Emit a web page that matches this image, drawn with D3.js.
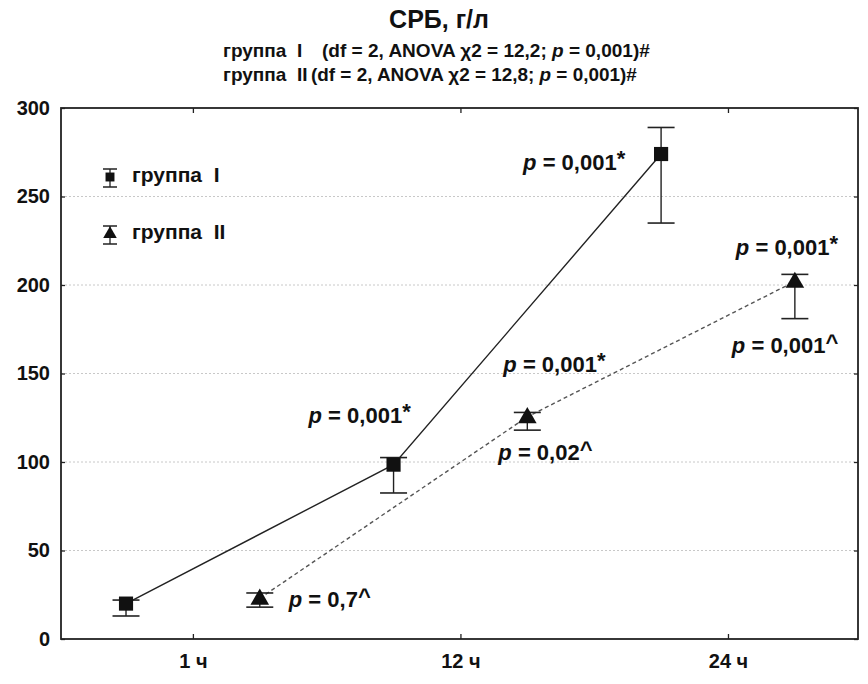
<!DOCTYPE html>
<html>
<head>
<meta charset="utf-8">
<script src="https://cdn.jsdelivr.net/npm/d3@7"></script>
<style>
  body { margin: 0; background: #fff; }
  svg { font-family: "Liberation Sans", Arial, sans-serif; font-weight: bold; }
  .axis path { display: none; }
  .axis line { stroke: #222; stroke-width: 1.3; }
  .axis text { fill: #111; font-weight: bold; }
</style>
</head>
<body>
<svg id="chart" width="868" height="684"></svg>
<script>
// categories and values
var categories = ["1 ч", "12 ч", "24 ч"];
var yTicks = [0, 50, 100, 150, 200, 250, 300];

var group1Mean = [20, 98.5, 274];
var group1Low  = [13, 82.5, 235];
var group1High = [22, 102.5, 289];

var group2Mean = [23, 125.5, 202];
var group2Low  = [18, 118, 181];
var group2High = [26, 128, 206];

var groupNames = ["группа  I", "группа  II"];
var titleText = "СРБ, г/л";
var subtitle1 = ["(df = 2, ANOVA χ2 = 12,2; ", "p", " = 0,001)#"];
var subtitle2 = ["(df = 2, ANOVA χ2 = 12,8; ", "p", " = 0,001)#"];

// p-value notes: group, point index, value, mark
var noteGroup = [1, 0, 1, 1, 0, 1, 1];
var noteIndex = [0, 1, 1, 1, 2, 2, 2];
var noteValue = ["0,7", "0,001", "0,001", "0,02", "0,001", "0,001", "0,001"];
var noteMark  = ["^", "*", "*", "^", "*", "*", "^"];

var svg = d3.select("svg#chart");
var margin = {top: 108, right: 10, bottom: 45, left: 61};
var width = +svg.attr("width") - margin.left - margin.right;
var height = +svg.attr("height") - margin.top - margin.bottom;

var x = d3.scaleLinear().domain([0.507, 3.486]).range([0, width]);
var y = d3.scaleLinear().domain([0, 300]).range([height, 0]);
var shift = 0.25;

var g = svg.append("g")
  .attr("transform", "translate(" + margin.left + "," + margin.top + ")");

// grid lines
g.selectAll(".grid")
  .data(yTicks.filter(function(d) { return d > 0 && d < 300; }))
  .enter().append("line")
  .attr("x1", 0).attr("x2", width)
  .attr("y1", function(d) { return y(d); })
  .attr("y2", function(d) { return y(d); })
  .attr("stroke", "#c8c8c8")
  .attr("stroke-width", 1)
  .attr("stroke-dasharray", "2,2");

// axes with inward ticks
var catTicks = [1, 2, 3];
g.append("g").attr("class", "axis")
  .attr("transform", "translate(0," + height + ")")
  .call(d3.axisBottom(x).tickValues(catTicks).tickSize(-5).tickPadding(15)
    .tickFormat(function(d) { return categories[d - 1]; }))
  .selectAll("text").style("font-size", "20px");

g.append("g").attr("class", "axis")
  .call(d3.axisTop(x).tickValues(catTicks).tickSize(-5).tickFormat(""));

g.append("g").attr("class", "axis")
  .call(d3.axisLeft(y).tickValues(yTicks).tickSize(-4).tickPadding(11))
  .selectAll("text").style("font-size", "20px");

g.append("g").attr("class", "axis")
  .attr("transform", "translate(" + width + ",0)")
  .call(d3.axisRight(y).tickValues(yTicks).tickSize(-4).tickFormat(""));

// frame
g.append("rect")
  .attr("width", width).attr("height", height)
  .attr("fill", "none").attr("stroke", "#222").attr("stroke-width", 1.8);

var groups = [
  {mean: group1Mean, low: group1Low, high: group1High, off: -shift, shape: d3.symbolSquare,
   line: {color: "#222", dash: null}},
  {mean: group2Mean, low: group2Low, high: group2High, off: shift, shape: d3.symbolTriangle,
   line: {color: "#555", dash: "4,3"}}
];

function px(gr, i) { return x(i + 1 + gr.off); }

groups.forEach(function(gr) {
  var idx = d3.range(categories.length);

  var line = d3.line()
    .x(function(i) { return px(gr, i); })
    .y(function(i) { return y(gr.mean[i]); });

  g.append("path")
    .datum(idx)
    .attr("d", line)
    .attr("fill", "none")
    .attr("stroke", gr.line.color)
    .attr("stroke-width", 1.4)
    .attr("stroke-dasharray", gr.line.dash);

  var eb = g.append("g").selectAll("g").data(idx).enter().append("g");
  eb.append("line")
    .attr("x1", function(i) { return px(gr, i); })
    .attr("x2", function(i) { return px(gr, i); })
    .attr("y1", function(i) { return y(gr.low[i]); })
    .attr("y2", function(i) { return y(gr.high[i]); })
    .attr("stroke", "#222").attr("stroke-width", 1.4);
  [gr.low, gr.high].forEach(function(arr) {
    eb.append("line")
      .attr("x1", function(i) { return px(gr, i) - 13.5; })
      .attr("x2", function(i) { return px(gr, i) + 13.5; })
      .attr("y1", function(i) { return y(arr[i]); })
      .attr("y2", function(i) { return y(arr[i]); })
      .attr("stroke", "#222").attr("stroke-width", 1.6);
  });

  var sym = d3.symbol().type(gr.shape).size(gr.shape === d3.symbolSquare ? 200 : 150);
  g.append("g").selectAll("path").data(idx).enter().append("path")
    .attr("d", sym)
    .attr("transform", function(i) {
      var dy = gr.shape === d3.symbolTriangle ? 1 : 0;
      return "translate(" + px(gr, i) + "," + (y(gr.mean[i]) + dy) + ")";
    })
    .attr("fill", "#111");
});

// p-value notes, placed relative to their point
var noteOffset = [[29, 9], [-85, -42], [-24, -45], [-29, 43], [-138, 16], [-59, -26], [-63, 72]];
noteValue.forEach(function(v, k) {
  var gr = groups[noteGroup[k]];
  var i = noteIndex[k];
  var t = g.append("text")
    .attr("x", px(gr, i) + noteOffset[k][0])
    .attr("y", y(gr.mean[i]) + noteOffset[k][1])
    .attr("fill", "#111")
    .style("font-size", "22px");
  t.append("tspan").style("font-style", "italic").text("p");
  t.append("tspan").text(" = " + v);
  t.append("tspan")
    .attr("dy", noteMark[k] === "*" ? -4 : -3)
    .text(noteMark[k]);
});

// legend
var legend = svg.append("g").attr("transform", "translate(110,0)");
[177, 234].forEach(function(ly, k) {
  var lg = legend.append("g").attr("transform", "translate(0," + ly + ")");
  lg.append("line").attr("x1", 0).attr("x2", 0).attr("y1", -8).attr("y2", 10)
    .attr("stroke", "#222").attr("stroke-width", 1.3);
  [-8, 10].forEach(function(cy) {
    lg.append("line").attr("x1", -7).attr("x2", 7).attr("y1", cy).attr("y2", cy)
      .attr("stroke", "#222").attr("stroke-width", 1.5);
  });
  lg.append("path")
    .attr("d", d3.symbol().type(groups[k].shape).size(80))
    .attr("fill", "#111");
  lg.append("text")
    .attr("x", 22).attr("y", 5)
    .attr("fill", "#111")
    .style("font-size", "21px")
    .style("white-space", "pre")
    .text(groupNames[k]);
});

// title
svg.append("text")
  .attr("x", 439).attr("y", 28)
  .attr("text-anchor", "middle")
  .attr("fill", "#111")
  .style("font-size", "25px")
  .text(titleText);

// subtitle: group name, then the test result squeezed to the width seen in the picture
[[groupNames[0], subtitle1, 57, 322, 328], [groupNames[1], subtitle2, 81, 311, 326]].forEach(function(s) {
  svg.append("text")
    .attr("x", 223).attr("y", s[2])
    .attr("fill", "#111")
    .style("font-size", "19px")
    .style("white-space", "pre")
    .text(s[0]);

  var holder = svg.append("g");
  var t = holder.append("text")
    .attr("fill", "#111")
    .style("font-size", "19px")
    .style("white-space", "pre");
  t.append("tspan").text(s[1][0]);
  t.append("tspan").style("font-style", "italic").text(s[1][1]);
  t.append("tspan").text(s[1][2]);
  var k = s[4] / t.node().getComputedTextLength();
  holder.attr("transform", "translate(" + s[3] + "," + s[2] + ") scale(" + k + ",1)");
});
</script>
</body>
</html>
